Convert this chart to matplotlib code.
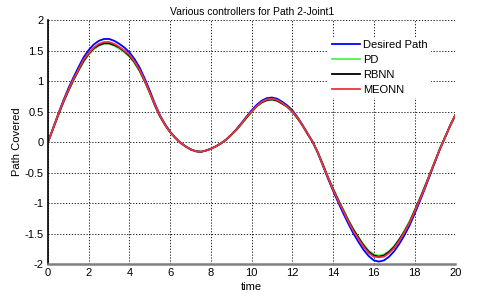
import numpy as np
import matplotlib
matplotlib.use("Agg")
import matplotlib.pyplot as plt

plt.rcParams["font.family"] = ["Liberation Sans", "DejaVu Sans"]

# values, every 0.25 s
time = np.arange(0, 20.001, 0.25)
desired = [0.00, 0.23, 0.46, 0.68, 0.88, 1.06, 1.23, 1.39, 1.51, 1.60,
           1.66, 1.69, 1.69, 1.66, 1.61, 1.55, 1.47, 1.36, 1.22, 1.04,
           0.84, 0.63, 0.44, 0.29, 0.17, 0.07, -0.01, -0.07, -0.12, -0.15,
           -0.16, -0.14, -0.11, -0.07, -0.02, 0.04, 0.12, 0.21, 0.31, 0.42,
           0.52, 0.61, 0.68, 0.72, 0.73, 0.71, 0.66, 0.60, 0.52, 0.41,
           0.28, 0.14, 0.00, -0.18, -0.39, -0.60, -0.80, -0.99, -1.17, -1.34,
           -1.50, -1.64, -1.77, -1.87, -1.94, -1.96, -1.94, -1.88, -1.79, -1.67,
           -1.53, -1.37, -1.18, -0.98, -0.77, -0.55, -0.33, -0.11, 0.08, 0.27,
           0.44]
pd_ctrl = [0.00, 0.22, 0.44, 0.65, 0.84, 1.01, 1.17, 1.32, 1.43, 1.52,
           1.58, 1.61, 1.61, 1.58, 1.53, 1.47, 1.40, 1.29, 1.16, 0.99,
           0.80, 0.60, 0.42, 0.28, 0.16, 0.07, -0.01, -0.07, -0.12, -0.15,
           -0.16, -0.14, -0.11, -0.07, -0.02, 0.04, 0.11, 0.20, 0.29, 0.40,
           0.49, 0.58, 0.65, 0.68, 0.69, 0.67, 0.63, 0.57, 0.49, 0.39,
           0.27, 0.13, 0.00, -0.17, -0.37, -0.57, -0.76, -0.94, -1.11, -1.27,
           -1.43, -1.56, -1.68, -1.78, -1.84, -1.86, -1.84, -1.79, -1.70, -1.59,
           -1.45, -1.30, -1.12, -0.93, -0.73, -0.52, -0.31, -0.10, 0.08, 0.27,
           0.45]
rbnn = [0.00, 0.22, 0.44, 0.65, 0.84, 1.02, 1.18, 1.33, 1.45, 1.54,
        1.59, 1.62, 1.62, 1.59, 1.55, 1.49, 1.41, 1.31, 1.17, 1.00,
        0.81, 0.60, 0.42, 0.28, 0.16, 0.07, -0.01, -0.07, -0.12, -0.15,
        -0.16, -0.14, -0.11, -0.07, -0.02, 0.04, 0.12, 0.20, 0.30, 0.40,
        0.50, 0.59, 0.65, 0.69, 0.70, 0.68, 0.63, 0.58, 0.50, 0.39,
        0.27, 0.13, 0.00, -0.17, -0.37, -0.58, -0.77, -0.95, -1.12, -1.29,
        -1.44, -1.57, -1.70, -1.80, -1.86, -1.88, -1.86, -1.80, -1.72, -1.60,
        -1.47, -1.32, -1.13, -0.94, -0.74, -0.53, -0.32, -0.11, 0.08, 0.27,
        0.44]
meonn = [0.00, 0.22, 0.45, 0.66, 0.85, 1.03, 1.19, 1.35, 1.46, 1.55,
         1.61, 1.64, 1.64, 1.61, 1.56, 1.50, 1.43, 1.32, 1.18, 1.01,
         0.81, 0.61, 0.43, 0.28, 0.16, 0.07, -0.01, -0.07, -0.12, -0.15,
         -0.16, -0.14, -0.11, -0.07, -0.02, 0.04, 0.12, 0.20, 0.30, 0.41,
         0.50, 0.59, 0.66, 0.70, 0.71, 0.69, 0.64, 0.58, 0.50, 0.40,
         0.27, 0.14, 0.00, -0.17, -0.38, -0.58, -0.78, -0.96, -1.13, -1.30,
         -1.46, -1.59, -1.72, -1.82, -1.88, -1.89, -1.88, -1.82, -1.74, -1.62,
         -1.48, -1.33, -1.14, -0.95, -0.75, -0.53, -0.32, -0.11, 0.08, 0.27,
         0.44]

series = [("Desired Path", desired, "#0000ff"),
          ("PD", pd_ctrl, "#55ee55"),
          ("RBNN", rbnn, "#000000"),
          ("MEONN", meonn, "#ee3344")]

fig = plt.figure(figsize=(4.83, 2.95), dpi=100)
ax = fig.add_axes([0.0994, 0.105, 0.8432, 0.827])

for name, vals, col in series:
    ax.plot(time, vals, color=col, lw=1.3, label=name)

ax.set_xlim(0, 20)
ax.set_ylim(-2, 2)
ax.set_xticks(np.arange(0, 21, 2))
ax.set_yticks(np.arange(-2, 2.01, 0.5))
ax.set_yticklabels(["-2", "-1.5", "-1", "-0.5", "0", "0.5", "1", "1.5", "2"])
ax.grid(True, color="black", linestyle=(0, (1.5, 2)), lw=0.6)
ax.tick_params(length=0, labelsize=8, pad=3)

ax.spines["top"].set_visible(False)
ax.spines["right"].set_visible(False)
ax.spines["bottom"].set_color("#808080")
ax.spines["bottom"].set_linewidth(1.8)
ax.spines["left"].set_color("black")
ax.spines["left"].set_linewidth(1.2)

ax.set_title("Various controllers for Path 2-Joint1", fontsize=7.5, pad=4)
ax.set_xlabel("time", fontsize=8, labelpad=3)
ax.set_ylabel("Path Covered", fontsize=8, labelpad=2)

leg = ax.legend(loc="upper left", bbox_to_anchor=(0.675, 0.955), fontsize=8,
                frameon=True, fancybox=False, handlelength=2.5,
                handletextpad=0.35, labelspacing=0.45, borderpad=0.3)
leg.get_frame().set_edgecolor("none")
leg.get_frame().set_facecolor("white")
leg.get_frame().set_alpha(1)

fig.savefig("out.png", dpi=100)
